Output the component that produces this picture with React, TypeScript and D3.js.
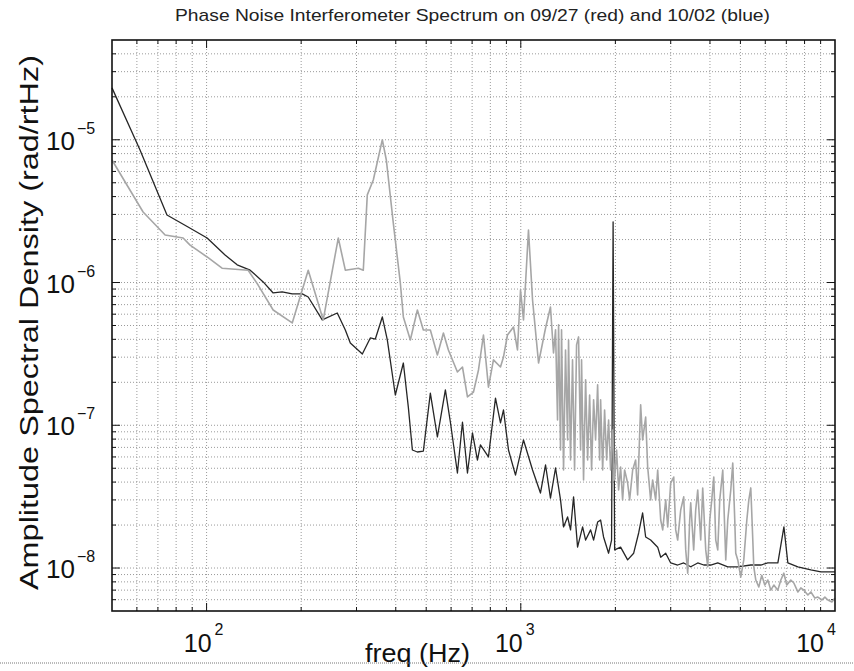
import React from "react";
import * as d3 from "d3";

const TITLE = "Phase Noise Interferometer Spectrum on 09/27 (red) and 10/02 (blue)";
const X_LABEL = "freq (Hz)";
const Y_LABEL = "Amplitude Spectral Density (rad/rtHz)";
const FREQ_RANGE: [number, number] = [50, 10000];
const ASD_RANGE: [number, number] = [5e-9, 5e-5];
const X_MAJOR = [100, 1000, 10000];
const X_MAJOR_EXP = ["2", "3", "4"];
const Y_MAJOR = [1e-5, 1e-6, 1e-7, 1e-8];
const Y_MAJOR_EXP = ["\u22125", "\u22126", "\u22127", "\u22128"];
const MINOR_MULTS = [1, 2, 3, 4, 5, 6, 7, 8, 9];
const X_DECADES = [10, 100, 1000, 10000];
const Y_DECADES = [1e-9, 1e-8, 1e-7, 1e-6, 1e-5];

// 10/02 (blue) spectrum: [freq Hz, ASD rad/rtHz]
const blueSpectrum: [number, number][] = [
  [50, 2.31e-5], [61.4, 8.48e-6], [74.8, 2.97e-6], [87.3, 2.45e-6], [100.4, 2.05e-6],
  [114.5, 1.56e-6], [125.1, 1.33e-6], [137.6, 1.22e-6], [151.4, 1.01e-6], [162.9, 8.45e-7],
  [174, 8.59e-7], [187.3, 8.32e-7], [201.6, 8.32e-7], [210.6, 7.92e-7], [233.4, 5.47e-7],
  [260.6, 6.12e-7], [276.4, 4.65e-7], [286.7, 3.77e-7], [313.1, 3.16e-7], [331.9, 4.09e-7],
  [344.4, 4.02e-7], [362.5, 5.74e-7], [376, 3.96e-7], [398.7, 1.63e-7], [422.9, 2.73e-7],
  [438.6, 1.34e-7], [451.8, 6.71e-8], [468.7, 6.5e-8], [489.7, 6.6e-8], [515.4, 1.68e-7],
  [542.7, 8.28e-8], [575.4, 1.77e-7], [597, 1.05e-7], [628.5, 4.63e-8], [652.2, 1.05e-7],
  [676.5, 4.63e-8], [701.8, 8.83e-8], [727.8, 5.71e-8], [744, 7.28e-8], [789, 6.0e-8],
  [830.7, 1.55e-7], [861.7, 1.04e-7], [881, 1.28e-7], [913.7, 6.71e-8], [962, 4.48e-8],
  [1020, 7.89e-8], [1090, 4.86e-8], [1155, 3.35e-8], [1199, 5.27e-8], [1243, 3.09e-8],
  [1290, 5.02e-8], [1338, 3.0e-8], [1368, 1.94e-8], [1409, 2.28e-8], [1440, 1.85e-8],
  [1472, 3.15e-8], [1516, 1.4e-8], [1573, 1.94e-8], [1608, 1.57e-8], [1668, 1.85e-8],
  [1705, 1.57e-8], [1756, 2.1e-8], [1795, 2.17e-8], [1834, 1.65e-8], [1903, 1.27e-8],
  [1945, 1.57e-8], [1967, 2.66e-6], [1989, 1.34e-8], [2078, 1.4e-8], [2188, 1.14e-8],
  [2287, 1.27e-8], [2372, 1.76e-8], [2442, 2.43e-8], [2497, 1.65e-8], [2590, 1.57e-8],
  [2727, 1.4e-8], [2788, 1.19e-8], [2892, 1.27e-8], [3000, 1.085e-8], [3157, 1.05e-8],
  [3300, 1.085e-8], [3474, 1.02e-8], [3657, 1.085e-8], [3822, 1.05e-8], [4022, 1.05e-8],
  [4235, 1.085e-8], [4557, 1.02e-8], [4905, 1.02e-8], [5395, 1.05e-8], [5806, 1.05e-8],
  [6112, 1.085e-8], [6579, 1.085e-8], [6877, 1.94e-8], [7079, 1.085e-8], [7616, 1.02e-8],
  [8380, 9.7e-9], [9020, 9.4e-9], [10000, 9.4e-9],
];

// 09/27 (red) spectrum: [freq Hz, ASD rad/rtHz]
const redSpectrum: [number, number][] = [
  [50, 7.22e-6], [62.8, 3.12e-6], [73.8, 2.15e-6], [84.2, 2.05e-6], [88.6, 1.83e-6],
  [100.4, 1.51e-6], [112, 1.26e-6], [135.6, 1.22e-6], [145.9, 9.6e-7], [162.9, 6.42e-7],
  [187.3, 5.21e-7], [210.6, 1.22e-6], [235.1, 5.47e-7], [262.5, 2.05e-6], [276.4, 1.22e-6],
  [304, 1.26e-6], [315.3, 1.22e-6], [324.7, 4.11e-6], [339.3, 5.23e-6], [362.5, 1.0e-5],
  [373.3, 7.22e-6], [392.9, 2.61e-6], [413.6, 9.93e-7], [422.9, 5.74e-7], [445.1, 3.96e-7],
  [468.7, 6.42e-7], [489.7, 4.65e-7], [515.4, 4.65e-7], [542.7, 3.11e-7], [567.2, 4.43e-7],
  [588.3, 3.37e-7], [628.5, 2.36e-7], [652.2, 2.56e-7], [676.5, 1.58e-7], [707, 1.71e-7],
  [733.4, 2.44e-7], [760.6, 4.29e-7], [789, 1.85e-7], [818.4, 2.87e-7], [861.7, 2.56e-7],
  [881, 3.01e-7], [907, 4.29e-7], [948, 4.88e-7], [976, 3.37e-7], [998, 8.87e-7],
  [1020, 5.47e-7], [1058, 2.33e-6], [1090, 7.55e-7], [1139, 2.73e-7], [1199, 4.8e-7],
  [1243, 6.74e-7], [1271, 3.21e-7], [1290, 4.66e-7], [1309, 1.09e-7], [1319, 5.05e-7],
  [1338, 6.71e-8], [1348, 4.66e-7], [1368, 4.86e-8], [1388, 3.37e-7], [1409, 7.89e-8],
  [1419, 3.96e-7], [1440, 5.71e-8], [1461, 2.87e-7], [1483, 4.86e-8], [1505, 3.66e-7],
  [1527, 4.16e-7], [1550, 6.71e-8], [1561, 2.87e-7], [1584, 4.14e-8], [1608, 2.08e-7],
  [1632, 5.71e-8], [1656, 1.63e-7], [1680, 4.86e-8], [1705, 1.51e-7], [1730, 7.89e-8],
  [1756, 1.92e-7], [1782, 5.71e-8], [1795, 1.51e-7], [1822, 4.86e-8], [1848, 1.28e-7],
  [1876, 5.71e-8], [1903, 1.09e-7], [1931, 4.86e-8], [1960, 9.27e-8], [1989, 4.14e-8],
  [2018, 6.71e-8], [2048, 3.52e-8], [2078, 5.1e-8], [2109, 3.0e-8], [2140, 4.86e-8],
  [2188, 3.94e-8], [2220, 3.0e-8], [2270, 4.86e-8], [2320, 5.71e-8], [2354, 3.25e-8],
  [2407, 1.39e-7], [2442, 7.89e-8], [2497, 1.14e-7], [2534, 5.1e-8], [2590, 3.0e-8],
  [2628, 4.14e-8], [2687, 3.0e-8], [2727, 4.86e-8], [2788, 2.17e-8], [2829, 1.85e-8],
  [2892, 3.0e-8], [2935, 1.94e-8], [3000, 3.94e-8], [3067, 4.34e-8], [3112, 1.85e-8],
  [3157, 1.57e-8], [3228, 2.55e-8], [3300, 3.15e-8], [3349, 1.34e-8], [3398, 9.2e-9],
  [3448, 2.17e-8], [3474, 2.86e-8], [3550, 1.34e-8], [3603, 2.55e-8], [3657, 3.52e-8],
  [3738, 1.57e-8], [3793, 3.64e-8], [3878, 1.34e-8], [3936, 1.02e-8], [3994, 2.17e-8],
  [4053, 3.0e-8], [4113, 4.34e-8], [4173, 1.57e-8], [4235, 1.34e-8], [4297, 3.0e-8],
  [4393, 4.86e-8], [4458, 1.85e-8], [4491, 1.14e-8], [4557, 2.17e-8], [4659, 3.52e-8],
  [4727, 5.44e-8], [4797, 2.17e-8], [4832, 1.27e-8], [4904, 1.14e-8], [5013, 8.65e-9],
  [5125, 1.14e-8], [5241, 2.17e-8], [5318, 3.0e-8], [5395, 3.64e-8], [5475, 1.57e-8],
  [5515, 1.02e-8], [5597, 8.24e-9], [5721, 7.36e-9], [5848, 8.9e-9], [5978, 7.6e-9],
  [6112, 8.24e-9], [6247, 7.0e-9], [6387, 7.6e-9], [6577, 7.0e-9], [6724, 8.24e-9],
  [6874, 9.2e-9], [7024, 7.6e-9], [7234, 8.24e-9], [7396, 7.85e-9], [7616, 6.8e-9],
  [7786, 7.25e-9], [7960, 7.0e-9], [8197, 6.47e-9], [8380, 6.8e-9], [8630, 6.16e-9],
  [8822, 6.26e-9], [9084, 5.97e-9], [9286, 6.26e-9], [9493, 5.97e-9], [9775, 5.78e-9],
  [10000, 6.16e-9],
];

const W = 854;
const H = 671;
const PLOT = { left: 112, right: 835, top: 40, bottom: 611 };
const FONT = "'Liberation Sans', Arial, Helvetica, sans-serif";
const X_LABEL_SHIFT = [0, -3, -16];

export default function App() {
  const x = d3.scaleLog().domain(FREQ_RANGE).range([PLOT.left, PLOT.right]);
  const y = d3.scaleLog().domain(ASD_RANGE).range([PLOT.bottom, PLOT.top]);

  const inX = (v: number) => v > FREQ_RANGE[0] * 1.001 && v < FREQ_RANGE[1] * 0.999;
  const inY = (v: number) => v > ASD_RANGE[0] * 1.001 && v < ASD_RANGE[1] * 0.999;
  const xGrid = X_DECADES.flatMap((d) => MINOR_MULTS.map((m) => d * m)).filter(inX);
  const yGrid = Y_DECADES.flatMap((d) => MINOR_MULTS.map((m) => d * m)).filter(inY);
  const isMajor = (v: number) => Math.abs(Math.log10(v) - Math.round(Math.log10(v))) < 1e-6;

  const line = d3
    .line<[number, number]>()
    .x((d) => x(d[0]))
    .y((d) => y(d[1]));

  const gridStyle = { stroke: "#9a9a9a", strokeWidth: 1, strokeDasharray: "1,2" };

  return (
    <svg
      width={W}
      height={H}
      style={{ position: "absolute", left: 0, top: 0, background: "#fff" }}
      fontFamily={FONT}
    >
      <rect x={0} y={0} width={W} height={H} fill="#fff" />
      <text
        x={175}
        y={21}
        textAnchor="start"
        fontSize={17}
        fill="#222"
        textLength={595}
        lengthAdjust="spacingAndGlyphs"
      >
        {TITLE}
      </text>

      {/* grid */}
      {xGrid.map((v) => (
        <line key={"gx" + v} x1={x(v)} x2={x(v)} y1={PLOT.top} y2={PLOT.bottom} {...gridStyle} />
      ))}
      {yGrid.map((v) => (
        <line key={"gy" + v} x1={PLOT.left} x2={PLOT.right} y1={y(v)} y2={y(v)} {...gridStyle} />
      ))}

      {/* ticks */}
      {xGrid.map((v) => {
        const len = isMajor(v) ? 8 : 4;
        return (
          <g key={"tx" + v} stroke="#111" strokeWidth={1}>
            <line x1={x(v)} x2={x(v)} y1={PLOT.bottom} y2={PLOT.bottom - len} />
            <line x1={x(v)} x2={x(v)} y1={PLOT.top} y2={PLOT.top + len} />
          </g>
        );
      })}
      {yGrid.map((v) => {
        const len = isMajor(v) ? 8 : 4;
        return (
          <g key={"ty" + v} stroke="#111" strokeWidth={1}>
            <line x1={PLOT.left} x2={PLOT.left + len} y1={y(v)} y2={y(v)} />
            <line x1={PLOT.right} x2={PLOT.right - len} y1={y(v)} y2={y(v)} />
          </g>
        );
      })}

      {/* data */}
      <path d={line(blueSpectrum) || ""} fill="none" stroke="#262626" strokeWidth={1.3} strokeLinejoin="round" />
      <path d={line(redSpectrum) || ""} fill="none" stroke="#a6a6a6" strokeWidth={1.6} strokeLinejoin="round" />

      {/* frame */}
      <rect
        x={PLOT.left}
        y={PLOT.top}
        width={PLOT.right - PLOT.left}
        height={PLOT.bottom - PLOT.top}
        fill="none"
        stroke="#111"
        strokeWidth={1.6}
      />

      {/* x tick labels */}
      {X_MAJOR.map((v, i) => (
        <g key={"xl" + v} fill="#111">
          <text x={x(v) + 5 + X_LABEL_SHIFT[i]} y={652} textAnchor="end" fontSize={25}>
            10
          </text>
          <text x={x(v) + 8 + X_LABEL_SHIFT[i]} y={635} textAnchor="start" fontSize={16}>
            {X_MAJOR_EXP[i]}
          </text>
        </g>
      ))}

      {/* y tick labels */}
      {Y_MAJOR.map((v, i) => (
        <g key={"yl" + v} fill="#111">
          <text x={75} y={y(v) + 10} textAnchor="end" fontSize={26}>
            10
          </text>
          <text x={77} y={y(v) - 6} textAnchor="start" fontSize={16}>
            {Y_MAJOR_EXP[i]}
          </text>
        </g>
      ))}

      {/* axis labels */}
      <text
        x={365}
        y={662}
        textAnchor="start"
        fontSize={25}
        fill="#111"
        textLength={105}
        lengthAdjust="spacingAndGlyphs"
      >
        {X_LABEL}
      </text>
      <text
        transform={`translate(38, 590) rotate(-90)`}
        textAnchor="start"
        fontSize={26}
        fill="#111"
        textLength={535}
        lengthAdjust="spacingAndGlyphs"
      >
        {Y_LABEL}
      </text>

      {/* page rule below the figure */}
      <line x1={0} x2={W} y1={663} y2={663} stroke="#777" strokeWidth={1} strokeDasharray="1,1" />
    </svg>
  );
}
